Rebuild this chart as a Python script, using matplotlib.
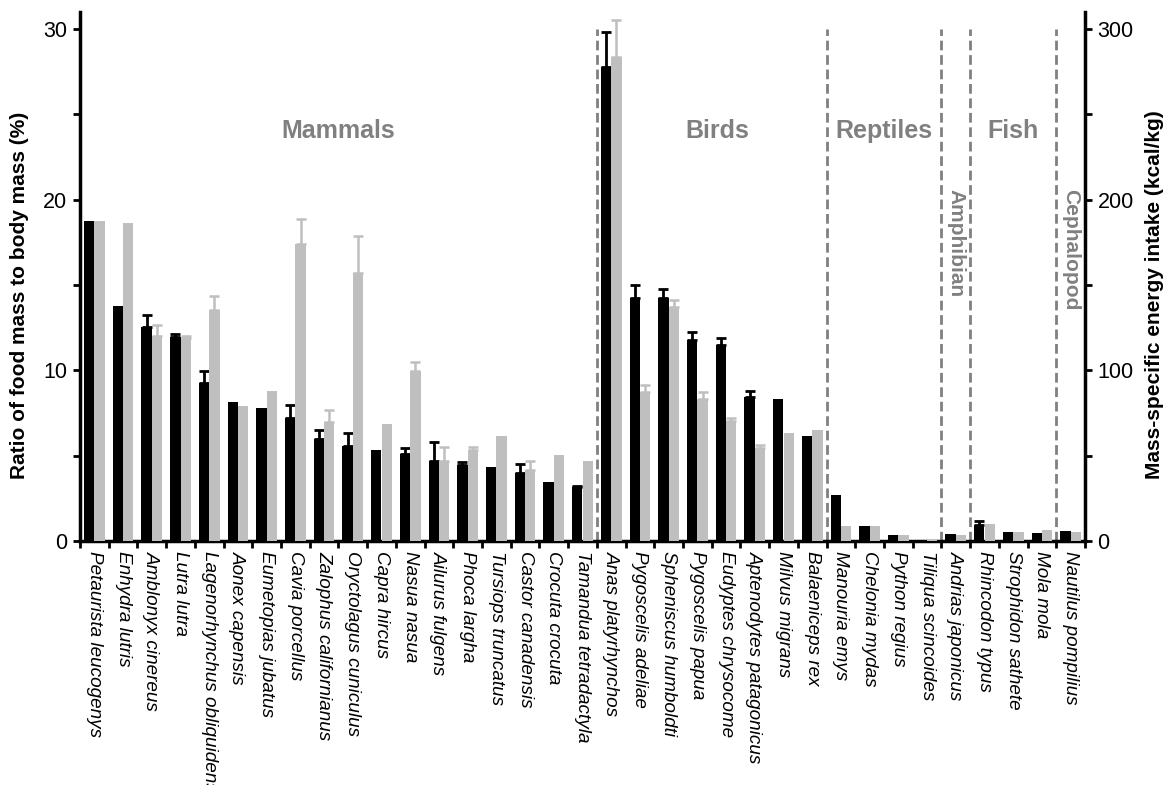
import numpy as np
import matplotlib
matplotlib.use("Agg")
import matplotlib.pyplot as plt
from matplotlib.ticker import FixedLocator

plt.rcParams['font.family'] = ['Liberation Sans', 'DejaVu Sans']

species = [
    "Petaurista leucogenys", "Enhydra lutris", "Amblonyx cinereus", "Lutra lutra",
    "Lagenorhynchus obliquidens", "Aonex capensis", "Eumetopias jubatus",
    "Cavia porcellus", "Zalophus californianus", "Oryctolagus cuniculus",
    "Capra hircus", "Nasua nasua", "Ailurus fulgens", "Phoca largha",
    "Tursiops truncatus", "Castor canadensis", "Crocuta crocuta",
    "Tamandua tetradactyla",
    "Anas platyrhynchos", "Pygoscelis adeliae", "Spheniscus humboldti",
    "Pygoscelis papua", "Eudyptes chrysocome", "Aptenodytes patagonicus",
    "Milvus migrans", "Balaeniceps rex",
    "Manouria emys", "Chelonia mydas", "Python regius", "Tiliqua scincoides",
    "Andrias japonicus",
    "Rhincodon typus", "Strophidon sathete", "Mola mola",
    "Nautilus pompilius",
]

# Ratio of food mass to body mass (%) - black bars, left axis
ratio = [18.75, 13.8, 12.55, 11.95, 9.28, 8.14, 7.82, 7.2, 6.0, 5.55,
         5.32, 5.11, 4.69, 4.44, 4.34, 3.96, 3.44, 3.17,
         27.75, 14.23, 14.23, 11.75, 11.5, 8.45, 8.3, 6.18,
         2.71, 0.86, 0.36, 0.07,
         0.42,
         0.96, 0.52, 0.46,
         0.61]
ratio_err = [0, 0, 0.67, 0.17, 0.69, 0, 0, 0.77, 0.48, 0.75,
             0, 0.34, 1.11, 0.17, 0, 0.55, 0, 0.08,
             2.09, 0.75, 0.54, 0.48, 0.39, 0.35, 0, 0,
             0, 0, 0, 0,
             0,
             0.19, 0, 0,
             0]

# Mass-specific energy intake (kcal/kg) - grey bars, right axis
energy = [187.8, 186.1, 120.0, 118.9, 135.2, 78.9, 88.0, 173.8, 69.7, 156.9,
          68.4, 99.7, 46.9, 53.2, 61.8, 41.7, 50.3, 46.9,
          283.8, 87.2, 136.9, 83.5, 70.1, 54.5, 63.2, 65.3,
          8.6, 8.6, 3.3, 0.5,
          3.3,
          10.0, 5.0, 6.3,
          5.0]
energy_err = [0, 0, 6.4, 1.3, 8.3, 0, 0, 15.0, 6.9, 21.7,
              0, 5.2, 8.0, 2.1, 0, 5.2, 0, 0,
              21.4, 4.2, 4.6, 3.7, 2.1, 1.8, 0, 0,
              0, 0, 0, 0,
              0,
              0, 0, 0,
              0]

groups = ["Mammals", "Birds", "Reptiles", "Fish"]
group_pos = [8.5, 21.7, 27.5, 32.0]
small_groups = ["Amphibian", "Cephalopod"]
small_group_pos = [30.0, 34.0]
dividers = [17.5, 25.5, 29.5, 30.5, 33.5]

GREY_BAR = '#bfbfbf'
GREY_TXT = '#808080'

fig = plt.figure(figsize=(11.68, 7.85), dpi=100)
ax = fig.add_axes([80/1168, 1 - 541/785, (1085 - 80)/1168, (541 - 12)/785])
ax2 = ax.twinx()

x = np.arange(len(species))
w = 0.36
ratio = np.array(ratio); ratio_err = np.array(ratio_err)
energy = np.array(energy); energy_err = np.array(energy_err)

ax.bar(x - w/2, ratio, w, color='black', zorder=2)
ax2.bar(x + w/2, energy, w, color=GREY_BAR, zorder=2)

m = ratio_err > 0
ax.errorbar((x - w/2)[m], ratio[m], yerr=[np.zeros(m.sum()), ratio_err[m]],
            fmt='none', ecolor='black', elinewidth=2, capsize=3.5, capthick=2, zorder=3)
m2 = energy_err > 0
ax2.errorbar((x + w/2)[m2], energy[m2], yerr=[np.zeros(m2.sum()), energy_err[m2]],
             fmt='none', ecolor=GREY_BAR, elinewidth=1.8, capsize=3.5, capthick=1.8, zorder=3)

ax.vlines(dividers, 0, 30, colors=GREY_TXT, linestyles=(0, (3.5, 1.7)), lw=2, zorder=1)

for g, p in zip(groups, group_pos):
    ax.text(p, 24.05, g, ha='center', va='center', fontsize=18,
            fontweight='bold', color=GREY_TXT)
for g, p in zip(small_groups, small_group_pos):
    ax.text(p, 20.6, g, ha='center', va='top', rotation=270, fontsize=15,
            fontweight='bold', color=GREY_TXT)

ax.set_xlim(-0.5, len(species) - 0.5)
ax.set_ylim(0, 31)
ax2.set_ylim(0, 310)

ax.set_xticks(x)
ax.set_xticklabels(species, rotation=270, ha='center', va='top',
                   fontsize=13.6, style='italic')
ax.xaxis.set_minor_locator(FixedLocator(np.arange(-0.5, len(species), 1)))
ax.tick_params(axis='x', which='major', length=0, pad=7)
ax.tick_params(axis='x', which='minor', length=5, width=2, direction='out')

ax.set_yticks([0, 10, 20, 30])
ax.yaxis.set_minor_locator(FixedLocator([5, 15, 25]))
ax.tick_params(axis='y', which='both', length=5, width=2, labelsize=15.5, pad=4)
ax2.set_yticks([0, 100, 200, 300])
ax2.yaxis.set_minor_locator(FixedLocator([50, 150, 250]))
ax2.tick_params(axis='y', which='both', length=5, width=2, labelsize=15.5, pad=4)

for a in (ax, ax2):
    a.spines['top'].set_visible(False)
    for s in ('left', 'right', 'bottom'):
        a.spines[s].set_linewidth(2.5)
ax.spines['right'].set_visible(False)
ax2.spines['left'].set_visible(False)
ax2.spines['bottom'].set_visible(False)

fig.text(20/1168, 1 - 295/785, "Ratio of food mass to body mass (%)",
         rotation=90, ha='center', va='center', fontsize=15, fontweight='bold')
fig.text(1155/1168, 1 - 295/785, "Mass-specific energy intake (kcal/kg)",
         rotation=90, ha='center', va='center', fontsize=15, fontweight='bold')

fig.savefig("out.png", dpi=100)
